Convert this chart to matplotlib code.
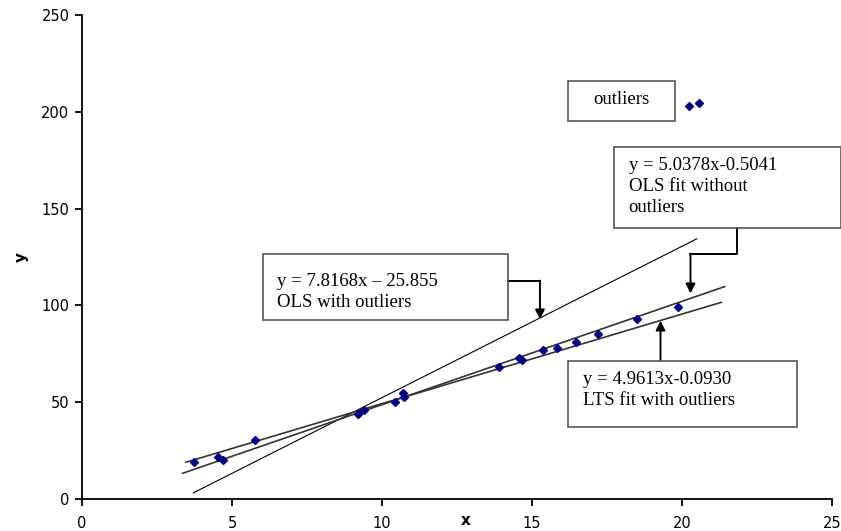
import numpy as np
import matplotlib
matplotlib.use("Agg")
import matplotlib.pyplot as plt
from matplotlib.patches import Rectangle

# data points
x_pts = [3.73, 4.54, 4.69, 5.77, 9.21, 9.41, 10.43, 10.69, 10.74, 13.89,
         14.57, 14.67, 15.37, 15.83, 16.47, 17.22, 18.50, 19.86]
y_pts = [19.0, 21.5, 20.1, 30.5, 43.9, 46.0, 50.3, 54.9, 52.5, 68.3,
         72.8, 71.8, 77.0, 77.8, 81.3, 85.1, 92.8, 99.2]
x_out = [20.24, 20.56]
y_out = [203.2, 204.7]

# fitted lines as drawn: slope, intercept, x start, x end
fit_names = ["ols_out", "ols_noout", "lts"]
fit_slope = [7.8168, 5.335, 4.627]
fit_icpt = [-25.855, -4.63, 2.94]
fit_x0 = [3.71, 3.36, 3.47]
fit_x1 = [20.5, 21.43, 21.32]
fit_lw = [0.8, 1.2, 1.2]
fit_col = ["black", "#333333", "#333333"]

x_ticks = [0, 5, 10, 15, 20, 25]
y_ticks = [0, 50, 100, 150, 200, 250]

fig = plt.figure(figsize=(8.41, 5.31), dpi=100)
ax = fig.add_axes([0.0975, 0.0603, 0.8915, 0.9115])

for k in range(len(fit_names)):
    xs = np.array([fit_x0[k], fit_x1[k]])
    ax.plot(xs, fit_slope[k] * xs + fit_icpt[k], color=fit_col[k], lw=fit_lw[k])

ax.plot(x_pts, y_pts, "D", color="#000080", ms=4, mec="#000080")
ax.plot(x_out, y_out, "D", color="#000080", ms=4, mec="#000080")

ax.set_xlim(0, 25)
ax.set_ylim(0, 250)
ax.set_xticks(x_ticks)
ax.set_yticks(y_ticks)
ax.spines["top"].set_visible(False)
ax.spines["right"].set_visible(False)
ax.spines["left"].set_linewidth(1.3)
ax.spines["bottom"].set_linewidth(1.3)
ax.tick_params(direction="out", length=5, width=1.3, labelsize=10.5, pad=4)
for lab in ax.get_xticklabels() + ax.get_yticklabels():
    lab.set_family("DejaVu Sans")
ax.tick_params(axis="x", pad=7)
ax.set_xlabel("x", fontsize=11, fontweight="bold", family="DejaVu Sans")
ax.xaxis.set_label_coords(0.512, -0.028)
ax.set_ylabel("y", fontsize=11, fontweight="bold", family="DejaVu Sans")
ax.yaxis.set_label_coords(-0.071, 0.5)

tfont = dict(family="Liberation Serif", fontsize=13.5, color="black")


def box(x0, y0, x1, y1):
    ax.add_patch(Rectangle((x0, y0), x1 - x0, y1 - y0, fill=False,
                           ec="#555555", lw=1.2, clip_on=False, zorder=4))


def arrow(x, y_from, y_to):
    ax.annotate("", xy=(x, y_to), xytext=(x, y_from),
                arrowprops=dict(arrowstyle="-|>", color="black", lw=1.4,
                                mutation_scale=14, shrinkA=0, shrinkB=0),
                annotation_clip=False)


# outliers label
box(16.2, 195.4, 19.77, 216.1)
ax.text(17.98, 206.2, "outliers", ha="center", va="center", **tfont)

# OLS without outliers
box(17.73, 140.0, 25.3, 181.8)
ax.text(18.23, 161.2, "y = 5.0378x-0.5041\nOLS fit without\noutliers",
        ha="left", va="center", linespacing=1.3, **tfont)
ax.plot([21.83, 21.83, 20.29], [140.0, 126.5, 126.5], color="black",
        lw=1.4, clip_on=False)
arrow(20.29, 126.5, 106.2)

# OLS with outliers
box(6.02, 92.5, 14.19, 126.5)
ax.text(6.5, 107.0, "y = 7.8168x \u2013 25.855\nOLS with outliers",
        ha="left", va="center", linespacing=1.3, **tfont)
ax.plot([14.19, 15.27], [112.8, 112.8], color="black", lw=1.4)
arrow(15.27, 112.8, 92.8)

# LTS
box(16.21, 37.0, 23.85, 71.4)
ax.text(16.7, 56.1, "y = 4.9613x-0.0930\nLTS fit with outliers",
        ha="left", va="center", linespacing=1.3, **tfont)
arrow(19.29, 71.4, 92.1)

fig.savefig("out.png", dpi=100)
